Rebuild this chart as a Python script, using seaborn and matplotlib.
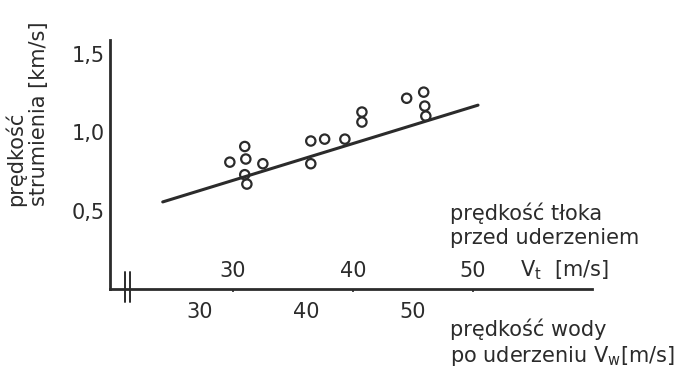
import numpy as np
import pandas as pd
import matplotlib
matplotlib.use("Agg")
import matplotlib.pyplot as plt
import matplotlib.transforms as mtransforms
import seaborn as sns

# ------------------------
# Data
# ------------------------
# water speed after impact V_w [m/s] (lower scale)
v_water = [32.8, 34.2, 34.3, 35.9, 34.2, 34.4, 40.4, 41.7, 43.6, 40.4,
           45.2, 45.2, 49.4, 51.0, 51.1, 51.2]
# jet speed [km/s]
v_jet = [0.81, 0.91, 0.83, 0.80, 0.73, 0.67, 0.945, 0.957, 0.957, 0.80,
         1.13, 1.066, 1.218, 1.257, 1.168, 1.104]

# fitted line end points
line_x = [26.5, 56.1]
line_y = [0.556, 1.174]

y_ticks = [0.5, 1.0, 1.5]
y_tick_labels = ["0,5", "1,0", "1,5"]
water_ticks = [30, 40, 50]
piston_ticks = [30, 40, 50]

INK = "#2b2b2b"
FS = 15

# piston speed V_t <-> water speed V_w (the two scales drawn on the x axis)
def piston_to_water(vt):
    return 33.1 + 1.127 * (np.asarray(vt, dtype=float) - 30)

def water_to_piston(vw):
    return 30 + (np.asarray(vw, dtype=float) - 33.1) / 1.127


sns.set_theme(style="white")
plt.rcParams["font.family"] = ["DejaVu Sans"]
plt.rcParams["text.color"] = INK

df = pd.DataFrame({"v_water": v_water, "v_jet": v_jet})
df_line = pd.DataFrame({"x": line_x, "y": line_y})

fig = plt.figure(figsize=(6.92, 3.69), dpi=100)
ax = fig.add_axes([110 / 692, 1 - 289 / 369, (592 - 110) / 692, (289 - 40) / 369])

sns.lineplot(data=df_line, x="x", y="y", color=INK, linewidth=2.2, ax=ax)
sns.scatterplot(data=df, x="v_water", y="v_jet", marker="o", s=45,
                facecolor="none", edgecolor=INK, linewidth=1.6, ax=ax, zorder=3)

ax.set_xlim(21.55, 66.8)
ax.set_ylim(0.0, 1.59)
ax.set_xlabel("")
ax.set_ylabel("")

for side in ["top", "right"]:
    ax.spines[side].set_visible(False)
for side in ["left", "bottom"]:
    ax.spines[side].set_color(INK)
    ax.spines[side].set_linewidth(2.0)

ax.set_yticks(y_ticks)
ax.set_yticklabels(y_tick_labels)
ax.set_xticks(water_ticks)
ax.tick_params(axis="both", colors=INK, labelcolor=INK, labelsize=FS,
               length=3, width=1.2)
ax.tick_params(axis="x", pad=6)
ax.tick_params(axis="y", pad=1)

# upper scale: piston speed before impact, labels sit above the axis line
sec = ax.secondary_xaxis(0.0, functions=(water_to_piston, piston_to_water))
sec.set_alignment("top")
sec.set_xticks(piston_ticks)
sec.tick_params(axis="x", colors=INK, labelcolor=INK, labelsize=FS,
                length=2, width=1.2, direction="in", pad=6)
for sp in sec.spines.values():
    sp.set_visible(False)

# axis break mark "||"
trans = mtransforms.blended_transform_factory(ax.transData, ax.transAxes)
for xb in [23.0, 23.45]:
    ax.plot([xb, xb], [-0.052, 0.068], color=INK, linewidth=1.4,
            transform=trans, clip_on=False)

# labels
fig.text(27 / 692, 1 - 206 / 369, "prędkość\nstrumienia [km/s]", rotation=90,
         ha="center", va="bottom", multialignment="left", fontsize=FS,
         linespacing=1.2)
fig.text(450 / 692, 1 - 203 / 369, "prędkość tłoka\nprzed uderzeniem",
         ha="left", va="top", fontsize=FS, linespacing=1.25)
fig.text(520 / 692, 1 - 270 / 369, r"V$_\mathrm{t}$  [m/s]", ha="left",
         va="center", fontsize=FS)
fig.text(450 / 692, 1 - 318 / 369, "prędkość wody\npo uderzeniu V$_\\mathrm{w}$[m/s]",
         ha="left", va="top", fontsize=FS, linespacing=1.25)

fig.savefig("out.png", dpi=100, facecolor="white")
